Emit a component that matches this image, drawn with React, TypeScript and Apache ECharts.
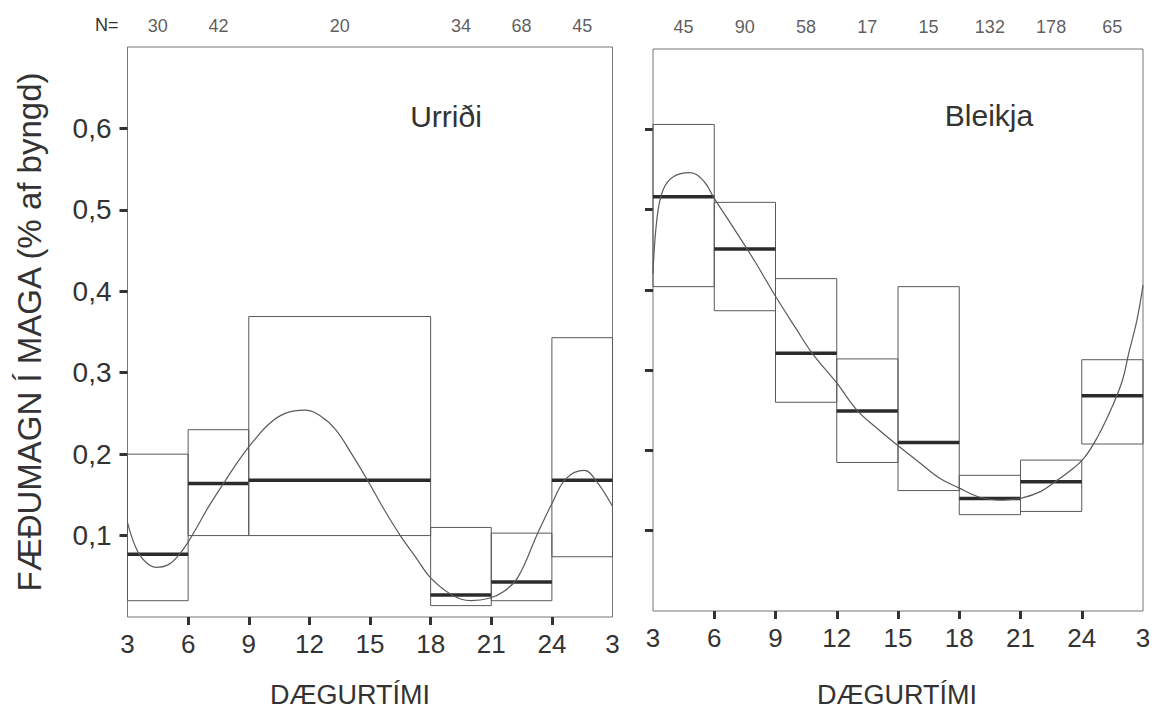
import React, { useEffect, useRef } from "react";
import * as echarts from "echarts";

// ---- data ----
const HOUR_TICKS = [3, 6, 9, 12, 15, 18, 21, 24, 27];
const INNER_TICKS = [6, 9, 12, 15, 18, 21, 24];
const Y_TICKS = [0.1, 0.2, 0.3, 0.4, 0.5, 0.6];

// Urriði (trout)
const urridiStart = [3, 6, 9, 18, 21, 24];
const urridiEnd = [6, 9, 18, 21, 24, 27];
const urridiLow = [0.02, 0.1, 0.1, 0.014, 0.02, 0.074];
const urridiMedian = [0.077, 0.164, 0.168, 0.027, 0.043, 0.168];
const urridiHigh = [0.2, 0.23, 0.369, 0.11, 0.103, 0.343];
const urridiN = [30, 42, 20, 34, 68, 45];
const urridiCurve: [number, number][] = [
  [3, 0.116], [3.4, 0.086], [3.8, 0.07], [4.4, 0.061], [5.0, 0.064], [5.5, 0.075],
  [6.0, 0.092], [6.5, 0.113], [7.0, 0.135], [7.75, 0.164], [8.5, 0.192], [9.2, 0.215],
  [10.0, 0.237], [10.8, 0.25], [11.8, 0.254], [12.6, 0.246], [13.3, 0.23], [14.1, 0.2],
  [14.9, 0.167], [15.7, 0.132], [16.5, 0.1], [17.3, 0.072], [18.0, 0.048], [19.0, 0.028],
  [20.0, 0.02], [20.9, 0.023], [21.6, 0.031], [22.3, 0.048], [23.3, 0.103], [24.0, 0.139],
  [24.7, 0.17], [25.6, 0.18], [26.2, 0.167], [27.0, 0.136],
];

// Bleikja (char)
const bleikjaStart = [3, 6, 9, 12, 15, 18, 21, 24];
const bleikjaEnd = [6, 9, 12, 15, 18, 21, 24, 27];
const bleikjaLow = [0.404, 0.374, 0.26, 0.185, 0.15, 0.12, 0.124, 0.208];
const bleikjaMedian = [0.516, 0.451, 0.321, 0.249, 0.21, 0.14, 0.161, 0.268];
const bleikjaHigh = [0.606, 0.509, 0.414, 0.314, 0.404, 0.169, 0.188, 0.313];
const bleikjaN = [45, 90, 58, 17, 15, 132, 178, 65];
const bleikjaCurve: [number, number][] = [
  [3.0, 0.42], [3.2, 0.49], [3.5, 0.525], [4.0, 0.541], [4.8, 0.546], [5.5, 0.535],
  [6.0, 0.514], [7.0, 0.475], [8.0, 0.435], [9.0, 0.392], [10.0, 0.352], [10.8, 0.321],
  [12.0, 0.284], [13.0, 0.25], [14.0, 0.227], [14.9, 0.208], [16.0, 0.186], [17.0, 0.166],
  [18.0, 0.153], [19.1, 0.141], [20.1, 0.138], [21.1, 0.141], [22.0, 0.149], [22.7, 0.161],
  [23.4, 0.174], [24.1, 0.19], [24.8, 0.218], [25.5, 0.255], [26.0, 0.288], [26.3, 0.321],
  [26.7, 0.362], [27.0, 0.406],
];

const FONT = "'Liberation Sans', Arial, Helvetica, sans-serif";
const TXT = "#333";
const LINE = "#5a5a5a";

function boxes(start: number[], end: number[], low: number[], med: number[], high: number[]) {
  return start.map((s, i) => [s, end[i], low[i], med[i], high[i]]);
}
function nLabels(start: number[], end: number[], n: number[]) {
  return start.map((s, i) => [(s + end[i]) / 2, 0.7, n[i]]);
}

const renderBox = (_params: any, api: any) => {
  const x0 = api.value(0), x1 = api.value(1), lo = api.value(2), md = api.value(3), hi = api.value(4);
  const a = api.coord([x0, hi]);
  const b = api.coord([x1, lo]);
  const m0 = api.coord([x0, md]);
  const m1 = api.coord([x1, md]);
  return {
    type: "group",
    children: [
      {
        type: "rect",
        shape: { x: a[0], y: a[1], width: b[0] - a[0], height: b[1] - a[1] },
        style: { fill: "none", stroke: LINE, lineWidth: 1 },
      },
      {
        type: "line",
        shape: { x1: m0[0], y1: m0[1], x2: m1[0], y2: m1[1] },
        style: { stroke: "#2b2b2b", lineWidth: 3.5 },
      },
    ],
  };
};

function xAxis(gridIndex: number) {
  return {
    type: "value",
    gridIndex,
    min: 3,
    max: 27,
    interval: 3,
    axisLine: { show: false },
    splitLine: { show: false },
    axisTick: {
      show: true,
      customValues: INNER_TICKS,
      length: 8,
      lineStyle: { color: "#333", width: 3 },
    },
    axisLabel: {
      customValues: HOUR_TICKS,
      formatter: (v: number) => (v === 27 ? "3" : String(v)),
      fontFamily: FONT,
      fontSize: 26,
      color: TXT,
      margin: 14,
    },
  };
}

function yAxis(gridIndex: number, showLabels: boolean) {
  return {
    type: "value",
    gridIndex,
    min: 0,
    max: 0.7,
    interval: 0.1,
    name: showLabels ? "FÆÐUMAGN Í MAGA (% af byngd)" : "",
    nameLocation: "middle",
    nameGap: 82,
    nameTextStyle: { fontFamily: FONT, fontSize: 33, color: TXT },
    axisLine: { show: false },
    splitLine: { show: false },
    axisTick: {
      show: true,
      customValues: Y_TICKS,
      length: 8,
      lineStyle: { color: "#333", width: 3 },
    },
    axisLabel: {
      show: showLabels,
      customValues: Y_TICKS,
      formatter: (v: number) => v.toFixed(1).replace(".", ","),
      fontFamily: FONT,
      fontSize: 28,
      color: TXT,
      margin: 16,
    },
  };
}

function nSeries(idx: number, data: number[][], dist: number) {
  return {
    type: "scatter",
    xAxisIndex: idx,
    yAxisIndex: idx,
    data,
    symbolSize: 0,
    clip: false,
    silent: true,
    label: {
      show: true,
      position: "top",
      distance: dist,
      formatter: (p: any) => String(p.data[2]),
      fontFamily: FONT,
      fontSize: 18,
      color: TXT,
    },
  };
}

const textStyle = (text: string, size: number) => ({
  text,
  fontFamily: FONT,
  fontSize: size,
  fill: TXT,
  textAlign: "center",
  textVerticalAlign: "middle",
});

export default function App() {
  const ref = useRef<HTMLDivElement>(null);
  useEffect(() => {
    if (!ref.current) return;
    const chart = echarts.init(ref.current, undefined, { renderer: "svg" });
    chart.setOption({
      animation: false,
      backgroundColor: "#fff",
      grid: [
        { left: 127.5, top: 47, width: 485, height: 570, show: true, borderColor: "#777", borderWidth: 1, backgroundColor: "transparent" },
        { left: 653, top: 49, width: 490, height: 562, show: true, borderColor: "#777", borderWidth: 1, backgroundColor: "transparent" },
      ],
      xAxis: [xAxis(0), xAxis(1)],
      yAxis: [yAxis(0, true), yAxis(1, false)],
      graphic: [
        { type: "text", left: 95, top: 16, style: { text: "N=", fontFamily: FONT, fontSize: 18, fill: TXT } },
        { type: "text", x: 446, y: 116, style: textStyle("Urriði", 30) },
        { type: "text", x: 989, y: 115, style: textStyle("Bleikja", 30) },
        { type: "text", x: 350, y: 695, style: textStyle("DÆGURTÍMI", 27) },
        { type: "text", x: 897, y: 695, style: textStyle("DÆGURTÍMI", 27) },
      ],
      series: [
        {
          type: "custom",
          xAxisIndex: 0,
          yAxisIndex: 0,
          renderItem: renderBox,
          encode: { x: [0, 1], y: [2, 3, 4] },
          data: boxes(urridiStart, urridiEnd, urridiLow, urridiMedian, urridiHigh),
          silent: true,
        },
        {
          type: "custom",
          xAxisIndex: 1,
          yAxisIndex: 1,
          renderItem: renderBox,
          encode: { x: [0, 1], y: [2, 3, 4] },
          data: boxes(bleikjaStart, bleikjaEnd, bleikjaLow, bleikjaMedian, bleikjaHigh),
          silent: true,
        },
        {
          type: "line",
          xAxisIndex: 0,
          yAxisIndex: 0,
          data: urridiCurve,
          smooth: 0.4,
          showSymbol: false,
          lineStyle: { color: LINE, width: 1.2 },
          silent: true,
        },
        {
          type: "line",
          xAxisIndex: 1,
          yAxisIndex: 1,
          data: bleikjaCurve,
          smooth: 0.4,
          showSymbol: false,
          lineStyle: { color: LINE, width: 1.2 },
          silent: true,
        },
        nSeries(0, nLabels(urridiStart, urridiEnd, urridiN), 12),
        nSeries(1, nLabels(bleikjaStart, bleikjaEnd, bleikjaN), 13),
      ],
    });
    return () => chart.dispose();
  }, []);
  return (
    <div
      ref={ref}
      style={{ position: "fixed", left: 0, top: 0, width: 1157, height: 713 }}
    />
  );
}
